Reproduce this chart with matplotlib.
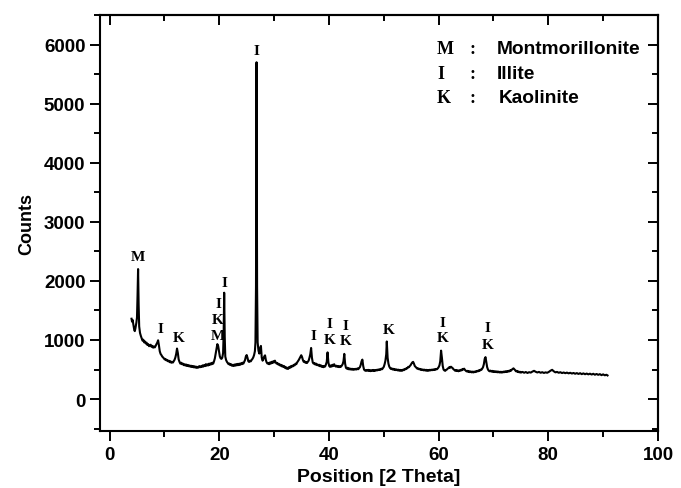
import numpy as np
import matplotlib
matplotlib.use("Agg")
import matplotlib.pyplot as plt
from matplotlib.ticker import MultipleLocator

# XRD pattern: (2 theta, counts)
pattern = [
    (4.0, 1360), (4.1, 1310), (4.2, 1340), (4.3, 1280), (4.4, 1230), (4.5, 1170), (4.6, 1150), (4.7, 1190),
    (4.8, 1240), (4.9, 1300), (5.0, 1380), (5.1, 1750), (5.2, 2200), (5.3, 1600), (5.4, 1230), (5.55, 1120),
    (5.7, 1070), (5.85, 1030), (6.0, 990), (6.15, 1005), (6.3, 960), (6.45, 975), (6.6, 940), (6.75, 955),
    (6.9, 915), (7.05, 930), (7.2, 895), (7.35, 910), (7.5, 920), (7.65, 885), (7.8, 900), (7.95, 870),
    (8.1, 890), (8.25, 875), (8.4, 900), (8.55, 930), (8.7, 955), (8.85, 995), (9.0, 910), (9.15, 810),
    (9.3, 765), (9.45, 745), (9.6, 720), (9.75, 705), (9.9, 690), (10.05, 670), (10.2, 680), (10.35, 655),
    (10.5, 662), (10.65, 640), (10.8, 650), (10.95, 625), (11.1, 640), (11.25, 615), (11.4, 630), (11.55, 618),
    (11.7, 640), (11.85, 665), (12.0, 705), (12.15, 765), (12.3, 855), (12.45, 780), (12.6, 670), (12.75, 630),
    (12.9, 600), (13.05, 615), (13.2, 590), (13.35, 602), (13.5, 575), (13.65, 590), (13.8, 568), (13.95, 585),
    (14.1, 560), (14.25, 578), (14.4, 555), (14.55, 570), (14.7, 548), (14.85, 565), (15.0, 543), (15.15, 560),
    (15.3, 538), (15.45, 555), (15.6, 533), (15.75, 550), (15.9, 528), (16.05, 545), (16.2, 532), (16.35, 558),
    (16.5, 538), (16.65, 555), (16.8, 543), (16.95, 570), (17.1, 550), (17.25, 575), (17.4, 558), (17.55, 590),
    (17.7, 565), (17.85, 588), (18.0, 570), (18.15, 600), (18.3, 580), (18.45, 605), (18.6, 588), (18.75, 615),
    (18.9, 600), (19.05, 640), (19.2, 690), (19.35, 770), (19.5, 860), (19.65, 930), (19.8, 900), (19.95, 810),
    (20.1, 725), (20.25, 690), (20.4, 680), (20.55, 700), (20.7, 780), (20.8, 1100), (20.9, 1800), (21.0, 1050),
    (21.1, 720), (21.25, 660), (21.4, 630), (21.55, 610), (21.7, 590), (21.85, 602), (22.0, 575), (22.15, 590),
    (22.3, 565), (22.45, 580), (22.6, 560), (22.75, 585), (22.9, 565), (23.05, 590), (23.2, 570), (23.35, 595),
    (23.5, 575), (23.65, 600), (23.8, 580), (23.95, 605), (24.1, 590), (24.25, 615), (24.4, 600), (24.55, 630),
    (24.7, 660), (24.85, 720), (25.0, 745), (25.15, 700), (25.3, 640), (25.45, 628), (25.6, 650), (25.75, 638),
    (25.9, 662), (26.05, 680), (26.2, 705), (26.35, 745), (26.5, 810), (26.6, 960), (26.7, 1900), (26.8, 5700),
    (26.9, 1900), (27.0, 960), (27.15, 820), (27.3, 770), (27.45, 860), (27.6, 900), (27.75, 700), (27.9, 650),
    (28.05, 680), (28.2, 720), (28.35, 740), (28.5, 660), (28.65, 620), (28.8, 600), (28.95, 612), (29.1, 590),
    (29.25, 620), (29.4, 600), (29.55, 630), (29.7, 610), (29.85, 640), (30.0, 620), (30.15, 650), (30.3, 620),
    (30.45, 600), (30.6, 612), (30.75, 585), (30.9, 595), (31.05, 570), (31.2, 582), (31.35, 555), (31.5, 570),
    (31.65, 545), (31.8, 560), (31.95, 530), (32.1, 545), (32.25, 515), (32.4, 530), (32.55, 510), (32.7, 540),
    (32.85, 525), (33.0, 555), (33.15, 540), (33.3, 565), (33.45, 555), (33.6, 580), (33.75, 570), (33.9, 600),
    (34.05, 590), (34.2, 620), (34.35, 640), (34.5, 662), (34.65, 690), (34.8, 720), (34.95, 742), (35.1, 712),
    (35.25, 662), (35.4, 630), (35.55, 640), (35.7, 615), (35.85, 625), (36.0, 610), (36.15, 632), (36.3, 650),
    (36.45, 700), (36.6, 760), (36.75, 865), (36.9, 700), (37.05, 620), (37.2, 600), (37.35, 610), (37.5, 585),
    (37.65, 600), (37.8, 575), (37.95, 585), (38.1, 565), (38.25, 580), (38.4, 555), (38.55, 570), (38.7, 545),
    (38.85, 560), (39.0, 540), (39.15, 560), (39.3, 550), (39.45, 585), (39.6, 630), (39.75, 790), (39.9, 620),
    (40.05, 560), (40.2, 545), (40.35, 570), (40.5, 550), (40.65, 580), (40.8, 560), (40.95, 590), (41.1, 565),
    (41.25, 550), (41.4, 565), (41.55, 545), (41.7, 560), (41.85, 540), (42.0, 555), (42.15, 545), (42.3, 560),
    (42.5, 590), (42.65, 640), (42.8, 765), (42.95, 600), (43.1, 530), (43.25, 515), (43.4, 530), (43.55, 505),
    (43.7, 520), (43.85, 500), (44.0, 515), (44.15, 498), (44.3, 512), (44.45, 495), (44.6, 510), (44.75, 500),
    (44.9, 512), (45.05, 500), (45.2, 520), (45.35, 505), (45.5, 525), (45.65, 540), (45.8, 580), (45.95, 640),
    (46.1, 668), (46.25, 560), (46.4, 500), (46.55, 485), (46.7, 478), (46.85, 492), (47.0, 480), (47.15, 495),
    (47.3, 475), (47.45, 490), (47.6, 472), (47.75, 488), (47.9, 478), (48.05, 493), (48.2, 475), (48.35, 490),
    (48.5, 480), (48.65, 495), (48.8, 485), (48.95, 500), (49.1, 490), (49.25, 505), (49.4, 495), (49.55, 515),
    (49.7, 505), (49.85, 525), (50.0, 545), (50.15, 590), (50.3, 650), (50.45, 760), (50.55, 975), (50.7, 700),
    (50.85, 600), (51.0, 550), (51.15, 525), (51.3, 510), (51.45, 520), (51.6, 500), (51.75, 512), (51.9, 495),
    (52.05, 505), (52.2, 490), (52.35, 502), (52.5, 485), (52.65, 498), (52.8, 480), (52.95, 495), (53.1, 478),
    (53.25, 492), (53.4, 480), (53.55, 500), (53.7, 490), (53.85, 510), (54.0, 505), (54.15, 525), (54.3, 520),
    (54.45, 545), (54.6, 540), (54.75, 560), (54.9, 575), (55.05, 600), (55.2, 620), (55.35, 630), (55.5, 600),
    (55.65, 560), (55.8, 545), (55.95, 530), (56.1, 515), (56.25, 520), (56.4, 505), (56.55, 512), (56.7, 495),
    (56.85, 505), (57.0, 490), (57.15, 500), (57.3, 485), (57.45, 498), (57.6, 482), (57.75, 495), (57.9, 478),
    (58.05, 492), (58.2, 480), (58.35, 495), (58.5, 485), (58.65, 498), (58.8, 488), (58.95, 500), (59.1, 492),
    (59.25, 505), (59.4, 495), (59.55, 510), (59.7, 505), (59.85, 520), (60.0, 540), (60.15, 570), (60.3, 640),
    (60.45, 820), (60.6, 700), (60.75, 560), (60.9, 500), (61.05, 485), (61.2, 478), (61.35, 492), (61.5, 500),
    (61.65, 515), (61.8, 525), (61.95, 540), (62.1, 530), (62.25, 548), (62.4, 535), (62.55, 525), (62.7, 505),
    (62.85, 495), (63.0, 480), (63.15, 492), (63.3, 475), (63.45, 488), (63.6, 470), (63.75, 485), (63.9, 478),
    (64.05, 495), (64.2, 485), (64.35, 510), (64.5, 500), (64.65, 515), (64.8, 495), (64.95, 480), (65.1, 468),
    (65.25, 478), (65.4, 460), (65.55, 472), (65.7, 455), (65.85, 468), (66.0, 452), (66.15, 465), (66.3, 450),
    (66.45, 465), (66.6, 455), (66.75, 470), (66.9, 462), (67.05, 478), (67.2, 470), (67.35, 488), (67.5, 480),
    (67.65, 498), (67.8, 495), (67.95, 515), (68.1, 540), (68.25, 590), (68.4, 680), (68.55, 710), (68.7, 620),
    (68.85, 540), (69.0, 500), (69.15, 480), (69.3, 470), (69.45, 482), (69.6, 465), (69.75, 478), (69.9, 460),
    (70.05, 472), (70.2, 458), (70.35, 470), (70.5, 455), (70.65, 468), (70.8, 452), (70.95, 465), (71.1, 450),
    (71.25, 462), (71.4, 448), (71.55, 462), (71.7, 450), (71.85, 465), (72.0, 455), (72.15, 470), (72.3, 458),
    (72.45, 472), (72.6, 462), (72.75, 478), (72.9, 468), (73.05, 488), (73.2, 480), (73.35, 498), (73.5, 510),
    (73.65, 520), (73.8, 505), (73.95, 490), (74.1, 470), (74.25, 478), (74.4, 458), (74.55, 468), (74.7, 452),
    (74.85, 462), (75.0, 448), (75.3, 460), (75.6, 445), (75.9, 458), (76.2, 442), (76.5, 455), (76.8, 448),
    (77.1, 465), (77.4, 478), (77.7, 462), (78.0, 450), (78.3, 460), (78.6, 445), (78.9, 455), (79.2, 442),
    (79.5, 452), (79.8, 445), (80.1, 460), (80.4, 480), (80.7, 495), (81.0, 470), (81.3, 452), (81.6, 460),
    (81.9, 445), (82.2, 455), (82.5, 440), (82.8, 450), (83.1, 438), (83.4, 448), (83.7, 435), (84.0, 445),
    (84.3, 432), (84.6, 442), (84.9, 428), (85.2, 440), (85.5, 425), (85.8, 438), (86.1, 422), (86.4, 435),
    (86.7, 420), (87.0, 432), (87.3, 418), (87.6, 430), (87.9, 415), (88.2, 428), (88.5, 412), (88.8, 425),
    (89.1, 410), (89.4, 422), (89.7, 405), (90.0, 418), (90.3, 402), (90.6, 412), (90.8, 400),
]
two_theta = np.array([p[0] for p in pattern])
counts = np.array([p[1] for p in pattern])

# phase letters over the peaks
peak_letters = ["M", "I", "K", "I", "K", "M", "I", "I", "I", "I", "K", "I", "K", "K", "I", "K", "I", "K"]
letter_x = [5.2, 9.3, 12.6, 19.8, 19.8, 19.8, 21.0, 26.8, 37.1, 40.1, 40.1, 43.0, 43.0, 50.9, 60.7, 60.7, 68.9, 68.9]
letter_y = [2420, 1200, 1045, 1610, 1345, 1080, 1980, 5900, 1070, 1280, 1015, 1250, 985, 1180, 1300, 1040, 1215, 930]

legend_keys = ["M", "I", "K"]
legend_names = ["Montmorillonite", "Illite", "Kaolinite"]

serif = "Liberation Serif"
sans = "Liberation Sans"

fig = plt.figure(figsize=(6.81, 4.89), dpi=100)
ax = fig.add_axes([0.1468, 0.1166, 0.8194, 0.8507])

ax.plot(two_theta, counts, color="black", lw=1.5)

ax.set_xlim(-1.75, 100)
ax.set_ylim(-540, 6500)
ax.xaxis.set_major_locator(MultipleLocator(20))
ax.xaxis.set_minor_locator(MultipleLocator(10))
ax.yaxis.set_major_locator(MultipleLocator(1000))
ax.yaxis.set_minor_locator(MultipleLocator(500))

for s in ax.spines.values():
    s.set_linewidth(1.5)
ax.tick_params(which="both", direction="out", width=1.4)
ax.tick_params(which="major", length=7)
ax.tick_params(which="minor", length=4)
for lab in ax.get_xticklabels() + ax.get_yticklabels():
    lab.set_fontfamily(sans)
    lab.set_fontweight("bold")
    lab.set_fontsize(13.5)

# inward ticks on top and right, no labels
top = ax.secondary_xaxis("top")
top.xaxis.set_major_locator(MultipleLocator(20))
top.xaxis.set_minor_locator(MultipleLocator(10))
top.tick_params(which="both", direction="in", width=1.4, labeltop=False)
top.tick_params(which="major", length=7)
top.tick_params(which="minor", length=4)
top.spines["top"].set_linewidth(1.5)
right = ax.secondary_yaxis("right")
right.yaxis.set_major_locator(MultipleLocator(1000))
right.yaxis.set_minor_locator(MultipleLocator(500))
right.tick_params(which="both", direction="in", width=1.4, labelright=False)
right.tick_params(which="major", length=7)
right.tick_params(which="minor", length=4)
right.spines["right"].set_linewidth(1.5)

ax.set_xlabel("Position [2 Theta]", family=sans, fontweight="bold", fontsize=14, labelpad=4)
ax.set_ylabel("Counts", family=sans, fontweight="bold", fontsize=13, labelpad=6)

for t, x, y in zip(peak_letters, letter_x, letter_y):
    ax.text(x, y, t, family=serif, fontweight="bold", fontsize=11, ha="center", va="center")

for i, (k, name) in enumerate(zip(legend_keys, legend_names)):
    yy = 1 - (50 + 24.5 * i) / 489
    fig.text(437 / 681, yy, k, family=serif, fontweight="bold", fontsize=13, ha="left", va="center")
    fig.text(473 / 681, yy, ":", family=serif, fontweight="bold", fontsize=13, ha="center", va="center")
    fig.text((497 + 2 * (i == 2)) / 681, yy, name, family=sans, fontweight="bold", fontsize=13.8,
             ha="left", va="center")

fig.savefig("out.png", dpi=100)
